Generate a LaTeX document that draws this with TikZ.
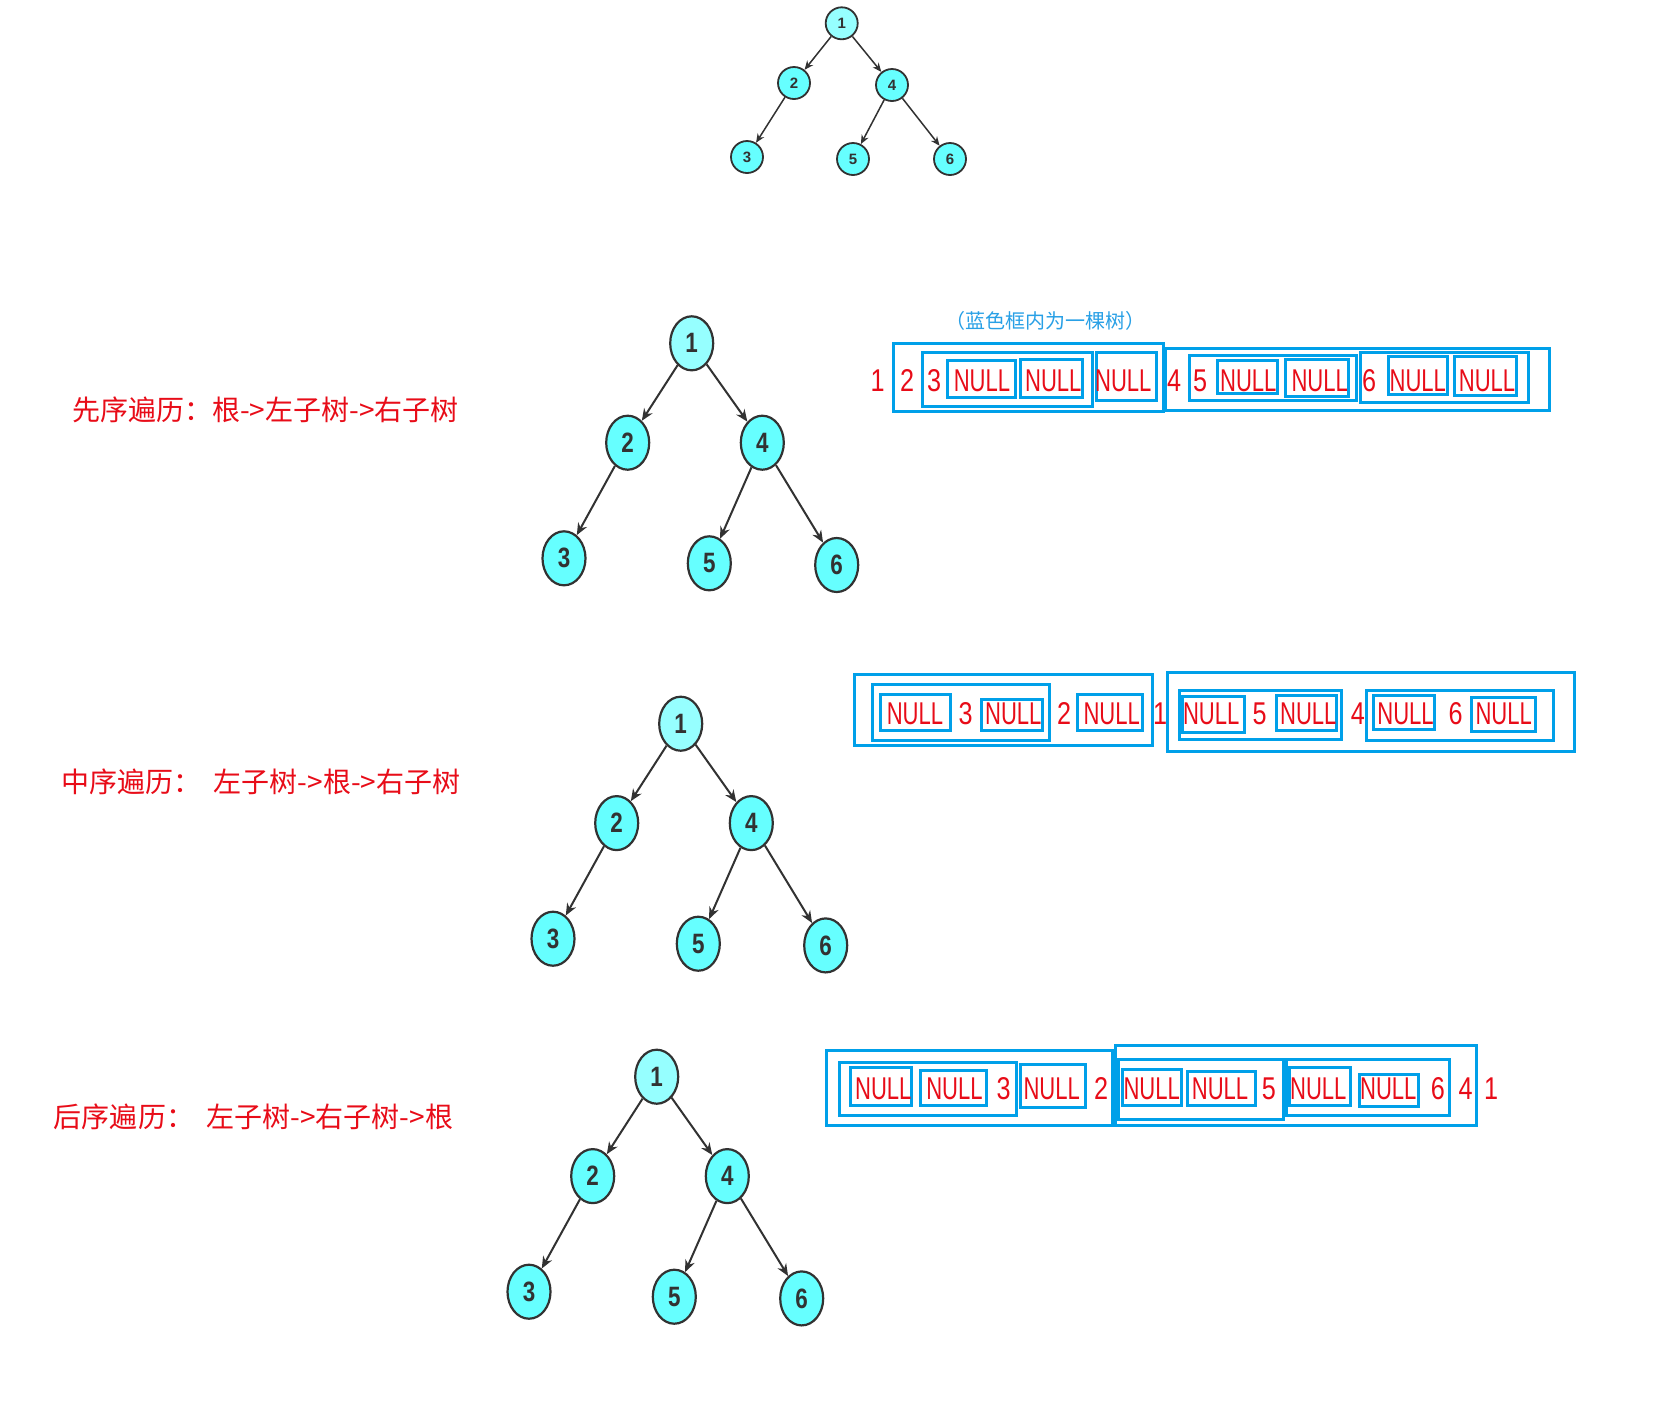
\documentclass[tikz,border=0pt]{standalone}
\usepackage{fontspec}
\usepackage{graphicx}
\setmainfont{Liberation Sans}
\newfontfamily\cjk{Noto Sans CJK SC}
\usetikzlibrary{arrows.meta,shapes.geometric}
\definecolor{bxc}{RGB}{0,160,233}
\definecolor{capc}{RGB}{40,160,230}
\definecolor{rd}{RGB}{232,12,24}
\definecolor{cy}{RGB}{102,255,255}
\definecolor{cyl}{RGB}{150,255,255}
\definecolor{ed}{RGB}{50,50,50}
\newcommand\sqz[1]{\scalebox{0.7}[1]{#1}}
\newcommand\sqd[1]{\scalebox{0.8}[1]{#1}}
\newcommand\bigtree[1]{%
  \node[bn,fill=cyl] (#1a) at (691.7,343.3) {\sqd{1}};
  \node[bn] (#1b) at (627.7,442.7) {\sqd{2}};
  \node[bn] (#1d) at (762.3,442.7) {\sqd{4}};
  \node[bn] (#1c) at (564,558.3) {\sqd{3}};
  \node[bn] (#1e) at (709.3,563.3) {\sqd{5}};
  \node[bn] (#1f) at (836.7,565) {\sqd{6}};
  \draw[be] (#1a) -- (#1b);
  \draw[be] (#1a) -- (#1d);
  \draw[be] (#1b) -- (#1c);
  \draw[be] (#1d) -- (#1e);
  \draw[be] (#1d) -- (#1f);
}
\begin{document}
\begin{tikzpicture}[x=0.5pt,y=-0.5pt,
  bn/.style={ellipse, draw=ed, line width=1.1pt, fill=cy, minimum width=21.5pt, minimum height=27pt, inner sep=0pt, font=\bfseries\fontsize{14}{14}\selectfont, text=ed},
  sn/.style={circle, draw=ed, line width=0.9pt, fill=cy, minimum size=16pt, inner sep=0pt, font=\bfseries\fontsize{7.5}{7.5}\selectfont, text=ed},
  be/.style={draw=ed, line width=1pt, -{Stealth[length=6pt,width=5pt]}},
  se/.style={draw=ed, line width=0.75pt, -{Stealth[length=4.5pt,width=3.8pt]}},
  bx/.style={draw=bxc, line width=1.5pt},
  rt/.style={text=rd, font=\fontsize{15.75}{16}\selectfont, anchor=base, inner sep=0pt},
  lb/.style={text=rd, font=\cjk\fontsize{14}{14}\selectfont, anchor=west, inner sep=0pt}]
\useasboundingbox[fill=white] (0,0) rectangle (1680,1425);

% small tree
\node[sn,fill=cyl] (s1) at (841.7,23.3) {1};
\node[sn] (s2) at (794,83) {2};
\node[sn] (s4) at (892,85) {4};
\node[sn] (s3) at (747,157) {3};
\node[sn] (s5) at (853,159) {5};
\node[sn] (s6) at (950,159) {6};
\draw[se] (s1) -- (s2);
\draw[se] (s1) -- (s4);
\draw[se] (s2) -- (s3);
\draw[se] (s4) -- (s5);
\draw[se] (s4) -- (s6);

% big trees
\bigtree{p}
\begin{scope}[shift={(-11,380.4)}]\bigtree{m}\end{scope}
\begin{scope}[shift={(-35,733.4)}]\bigtree{q}\end{scope}

% labels
\node[lb] (l1) at (71.7,410) {先序遍历：根->左子树->右子树};
\node[lb] (l2) at (61,782) {中序遍历：\hspace{0.45em}左子树->根->右子树};
\node[lb] (l3) at (53.6,1116.4) {后序遍历：\hspace{0.45em}左子树->右子树->根};

\node[text=capc, font=\cjk\fontsize{10}{10}\selectfont, inner sep=0pt] (cap) at (1045,320.7) {（蓝色框内为一棵树）};

% row 1: preorder
\draw[bx] (893.3,343.3) rectangle (1163.3,411);
\draw[bx] (922.3,352.3) rectangle (1092.7,406);
\draw[bx] (947.3,360) rectangle (1015,397.7);
\draw[bx] (1020,359.3) rectangle (1082.7,397.7);
\draw[bx] (1096.7,352.3) rectangle (1156.7,400);
\draw[bx] (1165.5,348) rectangle (1549,410);
\draw[bx] (1189.3,355.7) rectangle (1356.7,400);
\draw[bx] (1217.3,360) rectangle (1277.7,393.3);
\draw[bx] (1285.7,359.3) rectangle (1348.3,396);
\draw[bx] (1360.7,352.7) rectangle (1528.3,402.3);
\draw[bx] (1388.7,356.7) rectangle (1447.7,394.3);
\draw[bx] (1454.3,356.7) rectangle (1516.7,395);
\node[rt] (a1) at (877.5,391) {\sqd{1}};
\node[rt] (a2) at (907,391) {\sqd{2}};
\node[rt] (a3) at (934.2,391) {\sqd{3}};
\node[rt] (a4) at (982,391) {\sqz{NULL}};
\node[rt] (a5) at (1053.3,391) {\sqz{NULL}};
\node[rt] (a6) at (1123.3,391) {\sqz{NULL}};
\node[rt] (a7) at (1174,391) {\sqd{4}};
\node[rt] (a8) at (1200,391) {\sqd{5}};
\node[rt] (a9) at (1248.3,391) {\sqz{NULL}};
\node[rt] (a10) at (1319.7,391) {\sqz{NULL}};
\node[rt] (a11) at (1369,391) {\sqd{6}};
\node[rt] (a12) at (1417.8,391) {\sqz{NULL}};
\node[rt] (a13) at (1487,391) {\sqz{NULL}};

% row 2: inorder
\draw[bx] (854,674) rectangle (1152.3,745.7);
\draw[bx] (872.7,684) rectangle (1049.3,740);
\draw[bx] (880,694) rectangle (950,730);
\draw[bx] (981,699) rectangle (1042.7,730.7);
\draw[bx] (1077.7,694) rectangle (1142.3,730.7);
\draw[bx] (1167.3,672.7) rectangle (1574,751);
\draw[bx] (1179,690) rectangle (1341,739);
\draw[bx] (1182.7,696.7) rectangle (1244,732.7);
\draw[bx] (1276.7,695) rectangle (1336,730);
\draw[bx] (1366.7,690) rectangle (1553.3,740);
\draw[bx] (1373.3,695.7) rectangle (1434.3,729.3);
\draw[bx] (1471.7,697.3) rectangle (1535,731);
\node[rt] (b1) at (915,724) {\sqz{NULL}};
\node[rt] (b2) at (965.5,724) {\sqd{3}};
\node[rt] (b3) at (1013.3,724) {\sqz{NULL}};
\node[rt] (b4) at (1064,724) {\sqd{2}};
\node[rt] (b5) at (1111.7,724) {\sqz{NULL}};
\node[rt] (b6) at (1160,724) {\sqd{1}};
\node[rt] (b7) at (1211.2,724) {\sqz{NULL}};
\node[rt] (b8) at (1259.5,724) {\sqd{5}};
\node[rt] (b9) at (1308.3,724) {\sqz{NULL}};
\node[rt] (b10) at (1357.8,724) {\sqd{4}};
\node[rt] (b11) at (1405.5,724) {\sqz{NULL}};
\node[rt] (b12) at (1455.5,724) {\sqd{6}};
\node[rt] (b13) at (1503.7,724) {\sqz{NULL}};

% row 3: postorder
\draw[bx] (826.7,1050) rectangle (1112.7,1125);
\draw[bx] (839,1062.3) rectangle (1016,1115);
\draw[bx] (850,1067.7) rectangle (911,1105.7);
\draw[bx] (920,1070) rectangle (986.7,1105.7);
\draw[bx] (1020.7,1064) rectangle (1085,1107.7);
\draw[bx] (1115,1045) rectangle (1476.7,1125.7);
\draw[bx] (1118.3,1059) rectangle (1283.3,1119.3);
\draw[bx] (1122.7,1069.3) rectangle (1181.7,1105.7);
\draw[bx] (1187.3,1071.7) rectangle (1255,1105);
\draw[bx] (1286.7,1059) rectangle (1449,1115);
\draw[bx] (1289.3,1067.7) rectangle (1350,1105.7);
\draw[bx] (1359.3,1074) rectangle (1418.3,1106.7);
\node[rt] (c1) at (883.3,1099.3) {\sqz{NULL}};
\node[rt] (c2) at (954.5,1099.3) {\sqz{NULL}};
\node[rt] (c3) at (1003.5,1099.3) {\sqd{3}};
\node[rt] (c4) at (1051.7,1099.3) {\sqz{NULL}};
\node[rt] (c5) at (1101.2,1099.3) {\sqd{2}};
\node[rt] (c6) at (1151.7,1099.3) {\sqz{NULL}};
\node[rt] (c7) at (1220,1099.3) {\sqz{NULL}};
\node[rt] (c8) at (1268.8,1099.3) {\sqd{5}};
\node[rt] (c9) at (1318.3,1099.3) {\sqz{NULL}};
\node[rt] (c10) at (1388.3,1099.3) {\sqz{NULL}};
\node[rt] (c11) at (1437.8,1099.3) {\sqd{6}};
\node[rt] (c12) at (1465.5,1099.3) {\sqd{4}};
\node[rt] (c13) at (1491,1099.3) {\sqd{1}};
\end{tikzpicture}
\end{document}
